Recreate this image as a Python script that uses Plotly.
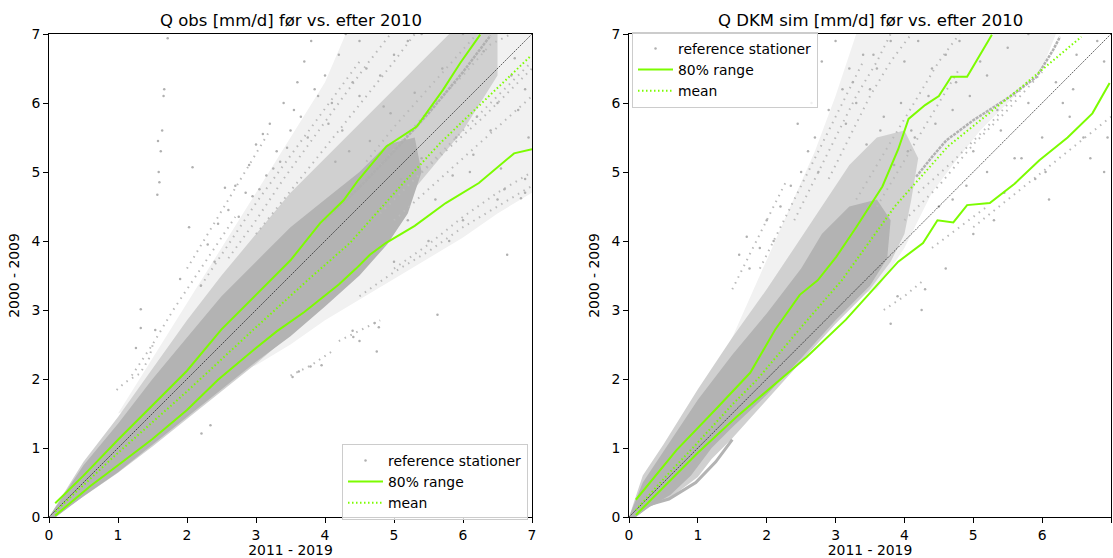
import plotly.graph_objects as go

# ---------------- data ----------------
titles = ["Q obs [mm/d] før vs. efter 2010", "Q DKM sim [mm/d] før vs. efter 2010"]
x_label = "2011 - 2019"
y_label = "2000 - 2009"
ticks = [0, 1, 2, 3, 4, 5, 6, 7]

# ----- left panel: observed -----
obs_up_x = [0.09, 0.5, 1.0, 1.5, 2.0, 2.5, 3.0, 3.5, 3.93, 4.27, 4.48, 4.89, 5.33, 5.71, 5.96, 6.25]
obs_up_y = [0.20, 0.6, 1.12, 1.62, 2.12, 2.72, 3.22, 3.72, 4.26, 4.59, 4.88, 5.37, 5.66, 6.19, 6.58, 6.99]
obs_lo_x = [0.09, 0.6, 1.0, 1.5, 2.0, 2.45, 3.0, 3.3, 3.7, 4.2, 4.45, 4.65, 4.88, 5.3, 5.75, 6.23, 6.74, 7.0]
obs_lo_y = [0.02, 0.45, 0.75, 1.13, 1.55, 1.99, 2.45, 2.69, 2.97, 3.37, 3.6, 3.8, 3.97, 4.22, 4.55, 4.84, 5.27, 5.33]
obs_mean_x = [0.09, 1.0, 2.0, 3.0, 3.78, 4.36, 5.09, 5.67, 6.97]
obs_mean_y = [0.08, 0.93, 1.82, 2.75, 3.46, 3.97, 4.79, 5.42, 6.67]

# outlines of the station cloud: dense core, speckled band, sparse haze
obs_core_x = [0.0, 0.5, 1.0, 1.5, 2.0, 2.5, 3.0, 3.5, 4.0, 4.5, 4.9, 5.3, 5.4, 5.2, 4.9, 4.5, 4.0, 3.5, 3.0, 2.5, 2.0, 1.5, 1.0, 0.5, 0.1]
obs_core_y = [0.0, 0.75, 1.35, 2.0, 2.6, 3.2, 3.7, 4.2, 4.6, 5.0, 5.4, 5.5, 5.0, 4.4, 3.95, 3.5, 3.05, 2.62, 2.25, 1.85, 1.45, 1.05, 0.65, 0.3, 0.0]
obs_mid_x = [0.0, 0.5, 1.0, 1.5, 2.0, 2.5, 3.0, 3.5, 4.0, 4.5, 5.0, 5.5, 5.8, 6.5, 6.5, 6.0, 5.5, 5.0, 4.5, 4.0, 3.5, 3.0, 2.5, 2.0, 1.5, 1.0, 0.6, 0.3, 0.1]
obs_mid_y = [0.0, 0.8, 1.45, 2.15, 2.85, 3.5, 4.1, 4.7, 5.2, 5.7, 6.2, 6.7, 7.0, 7.0, 6.4, 5.6, 5.0, 4.4, 3.8, 3.1, 2.65, 2.22, 1.82, 1.42, 1.02, 0.64, 0.36, 0.16, 0.0]
obs_haze_x = [1.0, 1.5, 2.0, 2.5, 3.0, 3.5, 4.0, 4.3, 7.0, 7.0, 6.5, 6.0, 5.5, 5.0, 4.5, 4.0, 3.5, 3.0]
obs_haze_y = [1.5, 2.3, 3.1, 3.9, 4.7, 5.5, 6.3, 7.0, 7.0, 4.7, 4.4, 4.05, 3.75, 3.45, 3.15, 2.85, 2.5, 2.2]
# sparse station curves (drawn as dotted strands)
obs_strands_x = [
    [1.2, 1.5, 1.8, 2.1, 2.4, 2.7],
    [2.2, 2.6, 3.0, 3.4, 3.8, 4.2, 4.5],
    [2.6, 3.0, 3.4, 3.8, 4.2, 4.6, 4.95],
    [3.0, 3.4, 3.8, 4.2, 4.6, 5.0, 5.3],
    [2.0, 2.3, 2.6, 2.9, 3.2],
    [4.6, 5.0, 5.4, 5.8, 6.2],
    [4.8, 5.2, 5.6, 6.0, 6.4, 6.7],
    [4.8, 5.3, 5.8, 6.3, 6.8, 7.0],
    [5.0, 5.5, 6.0, 6.5, 7.0],
    [5.2, 5.7, 6.2, 6.7, 7.0],
    [4.5, 5.0, 5.5, 6.0, 6.5, 7.0],
    [5.0, 5.5, 6.0, 6.5, 7.0],
    [4.2, 4.5, 4.8],
    [3.5, 3.8, 4.1],
    [0.98, 1.1, 1.32, 1.45, 1.51],
]
obs_strands_y = [
    [2.05, 2.5, 3.0, 3.45, 3.9, 4.35],
    [3.35, 3.95, 4.55, 5.1, 5.65, 6.2, 6.6],
    [3.75, 4.3, 4.9, 5.45, 6.0, 6.55, 7.0],
    [4.1, 4.6, 5.1, 5.6, 6.1, 6.6, 7.0],
    [3.6, 4.1, 4.6, 5.1, 5.6],
    [5.15, 5.65, 6.1, 6.55, 7.0],
    [5.1, 5.55, 6.0, 6.4, 6.85, 7.0],
    [4.4, 4.9, 5.35, 5.8, 6.3, 6.5],
    [4.3, 4.75, 5.2, 5.65, 6.1],
    [4.8, 5.3, 5.8, 6.3, 6.6],
    [3.2, 3.55, 3.85, 4.2, 4.5, 4.8],
    [3.6, 3.95, 4.35, 4.7, 5.0],
    [2.55, 2.7, 2.85],
    [2.05, 2.2, 2.4],
    [1.84, 1.95, 2.08, 2.3, 2.52],
]
obs_thick_x = [[4.0, 4.5, 5.0, 5.5, 6.0, 6.4]]
obs_thick_y = [[4.3, 4.78, 5.3, 5.85, 6.45, 6.98]]
obs_pts_x = [1.67, 1.64, 1.59, 1.57, 2.08, 2.55, 2.03, 1.72, 2.9, 3.0, 3.2, 3.4, 3.6, 3.7, 3.8, 3.3,
             3.5, 4.0, 4.2, 4.3, 2.7, 3.1, 3.9, 4.1, 4.4, 4.6, 4.5, 2.6, 2.85, 3.35, 3.75, 4.05,
             4.25, 4.5, 4.8, 5.0, 5.2, 6.0, 5.4, 5.0, 5.5, 6.0, 6.5, 6.9, 5.8, 6.6, 6.9, 5.2, 5.6,
             6.1, 6.4, 6.8, 6.9, 6.7, 6.5, 6.2, 5.9, 5.4, 5.1, 6.64, 6.84, 5.63, 4.72, 4.41, 4.5,
             3.79, 3.95, 3.53, 3.62, 4.75, 4.78, 4.4, 2.34, 2.21, 1.33, 1.33, 1.54, 1.26, 2.2, 2.4,
             1.9, 2.3, 2.45, 3.05, 3.25, 3.45, 3.65, 3.85, 4.65, 4.95, 5.3, 5.7, 6.3, 6.75, 5.85,
             6.15, 6.55, 6.95, 3.15, 3.55, 2.75, 2.95, 4.15, 4.35, 4.85, 1.62, 1.6, 1.66, 1.58]
obs_pts_y = [6.2, 5.6, 5.0, 4.67, 5.07, 4.77, 4.2, 6.94, 5.1, 5.4, 5.7, 6.0, 6.3, 6.6, 6.9, 5.3,
             5.6, 6.4, 6.7, 7.0, 4.8, 5.55, 6.1, 6.0, 6.3, 6.5, 6.9, 4.45, 4.7, 5.15, 5.5, 5.7,
             5.6, 6.1, 6.4, 6.7, 6.9, 7.0, 7.0, 3.7, 4.0, 4.3, 4.6, 4.9, 4.0, 4.75, 4.7, 4.3, 4.6,
             5.0, 5.6, 5.9, 6.2, 6.4, 6.0, 5.8, 5.5, 5.2, 4.9, 3.8, 4.62, 2.93, 2.81, 2.61, 2.55,
             2.18, 2.2, 2.03, 2.11, 2.4, 2.75, 2.7, 1.33, 1.21, 3.01, 2.74, 2.71, 2.45, 3.35, 3.7,
             3.45, 3.95, 4.25, 4.75, 5.05, 5.35, 5.8, 6.2, 5.45, 5.85, 6.15, 6.5, 6.75, 6.65, 4.95,
             5.25, 5.05, 5.5, 4.95, 5.9, 4.35, 4.65, 5.15, 5.3, 5.95, 5.3, 4.85, 6.1, 5.45]

# ----- right panel: DKM simulated -----
sim_up_x = [0.1, 0.69, 1.25, 1.76, 2.12, 2.48, 2.74, 3.01, 3.3, 3.68, 3.91, 4.06, 4.3, 4.5, 4.68, 4.91, 5.27]
sim_up_y = [0.25, 0.97, 1.55, 2.09, 2.71, 3.22, 3.43, 3.77, 4.2, 4.79, 5.33, 5.77, 5.97, 6.1, 6.38, 6.38, 6.99]
sim_lo_x = [0.1, 1.0, 1.56, 2.07, 2.58, 3.15, 3.66, 3.91, 4.27, 4.48, 4.71, 4.91, 5.24, 5.6, 5.96, 6.37, 6.73, 6.98]
sim_lo_y = [0.03, 0.93, 1.45, 1.89, 2.32, 2.86, 3.43, 3.7, 3.97, 4.3, 4.27, 4.52, 4.55, 4.83, 5.17, 5.5, 5.85, 6.29]
sim_mean_x = [0.1, 0.5, 1.0, 1.5, 1.86, 2.5, 3.09, 3.86, 4.63, 5.65, 6.57]
sim_mean_y = [0.1, 0.55, 1.08, 1.63, 1.99, 2.75, 3.43, 4.5, 5.37, 6.19, 6.96]

sim_core_x = [0.0, 0.2, 0.5, 1.0, 1.5, 2.0, 2.5, 2.8, 3.2, 3.6, 3.8, 3.75, 3.5, 3.0, 2.5, 2.0, 1.5, 1.2, 0.9, 0.6, 0.3, 0.1]
sim_core_y = [0.0, 0.5, 0.95, 1.7, 2.35, 2.95, 3.6, 4.1, 4.5, 4.6, 4.3, 3.75, 3.35, 2.85, 2.3, 1.77, 1.3, 1.0, 0.6, 0.32, 0.15, 0.0]
sim_mid_x = [0.0, 0.2, 0.5, 1.0, 1.5, 2.0, 2.4, 2.8, 3.2, 3.6, 4.0, 4.2, 4.1, 4.0, 3.8, 3.5, 3.0, 2.5, 2.0, 1.5, 1.2, 1.0, 0.6, 0.3, 0.1]
sim_mid_y = [0.0, 0.6, 1.05, 1.85, 2.6, 3.3, 3.9, 4.5, 5.1, 5.5, 5.6, 5.2, 4.6, 4.1, 3.7, 3.3, 2.8, 2.25, 1.7, 1.14, 0.84, 0.58, 0.28, 0.15, 0.0]
sim_haze_x = [1.5, 1.9, 2.3, 2.7, 3.0, 3.3, 6.2, 6.0, 5.6, 5.1, 4.7, 4.4, 4.2, 4.0, 3.6]
sim_haze_y = [2.6, 3.5, 4.4, 5.3, 6.1, 7.0, 7.0, 6.5, 6.1, 5.6, 5.1, 4.7, 4.3, 3.9, 3.3]
sim_strands_x = [
    [1.5, 1.7, 1.9, 2.1, 2.3],
    [1.9, 2.2, 2.5, 2.8, 3.1, 3.4],
    [2.4, 2.7, 3.0, 3.3, 3.6, 3.8],
    [2.9, 3.2, 3.5, 3.8, 4.1],
    [3.3, 3.6, 3.9, 4.2, 4.5, 4.8],
    [3.6, 3.9, 4.2, 4.5, 4.8],
    [4.0, 4.5, 5.0, 5.5, 6.0],
    [4.2, 4.7, 5.2, 5.7],
    [5.0, 5.5, 6.0, 6.5, 7.0],
    [4.4, 4.8, 5.2],
    [3.7, 4.0, 4.3],
]
sim_strands_y = [
    [3.3, 3.7, 4.1, 4.5, 4.9],
    [3.6, 4.2, 4.8, 5.4, 6.0, 6.6],
    [4.3, 4.9, 5.5, 6.1, 6.6, 7.0],
    [4.9, 5.5, 6.1, 6.6, 7.0],
    [4.6, 5.1, 5.6, 6.1, 6.6, 7.0],
    [4.5, 5.0, 5.5, 6.0, 6.5],
    [4.3, 4.8, 5.4, 5.9, 6.45],
    [4.7, 5.15, 5.65, 6.2],
    [4.2, 4.6, 5.0, 5.4, 5.8],
    [3.9, 4.2, 4.5],
    [3.0, 3.2, 3.45],
]
sim_thick_x = [[4.17, 4.41, 4.61, 5.0, 5.53, 5.92, 6.16, 6.26]]
sim_thick_y = [[4.93, 5.23, 5.46, 5.75, 6.09, 6.38, 6.77, 6.96]]
sim_solid_x = [[0.15, 0.3, 0.58, 0.97, 1.26, 1.5]]
sim_solid_y = [[0.12, 0.18, 0.26, 0.5, 0.8, 1.12]]
sim_pts_x = [1.71, 1.6, 3.0, 3.2, 3.4, 3.5, 2.9, 2.7, 2.5, 2.6, 3.3, 3.6, 3.8, 4.0, 4.2, 4.6, 4.8,
             4.4, 5.2, 5.5, 5.8, 5.4, 5.8, 6.2, 6.5, 6.8, 5.0, 5.2, 5.6, 6.0, 6.4, 6.9, 6.9, 6.1,
             6.6, 5.9, 5.3, 5.0, 4.7, 4.9, 4.5, 3.9, 4.3, 4.6, 3.8, 4.25, 2.2, 2.35, 2.0, 1.9,
             3.1, 3.7, 4.1, 4.7, 4.95, 5.1, 5.7, 6.3, 6.7, 6.95, 3.55, 3.95, 4.35, 4.75, 5.35,
             2.8, 3.25, 3.65, 4.05, 4.45, 5.45, 6.05, 6.45, 2.45, 2.65, 3.15, 2.1, 1.75, 2.75,
             3.45, 3.85, 4.15]
sim_pts_y = [4.06, 3.8, 6.9, 6.5, 6.7, 6.2, 5.9, 5.5, 5.0, 5.3, 6.0, 6.5, 6.9, 6.6, 6.9, 6.7, 6.9,
             6.5, 6.4, 6.8, 7.0, 5.6, 6.0, 6.3, 6.7, 6.9, 5.3, 5.0, 5.2, 5.5, 5.8, 6.6, 5.0, 4.6,
             5.5, 4.9, 4.3, 4.1, 4.6, 4.8, 4.5, 3.2, 3.3, 3.6, 2.8, 3.0, 4.5, 4.8, 4.3, 3.9,
             6.2, 5.8, 5.6, 5.9, 6.1, 6.6, 5.2, 6.0, 5.2, 5.5, 6.7, 6.0, 6.1, 6.3, 5.9,
             6.6, 6.3, 5.6, 5.3, 5.7, 4.7, 5.0, 6.2, 5.7, 6.0, 5.7, 4.0, 3.6, 5.0,
             5.4, 5.1, 5.5]

# ---------------- styling ----------------
GREEN = "#7CFC00"
PT = "#b0b0b0"
STRAND = "#bababa"
HAZE = "#f1f1f1"
MID = "#d0d0d0"
CORE = "#b3b3b3"
FONT = "DejaVu Sans"
FS = 13.9

fig = go.Figure()

panels = [
    dict(xa="x", ya="y", legend="legend",
         core=(obs_core_x, obs_core_y), mid=(obs_mid_x, obs_mid_y), haze=(obs_haze_x, obs_haze_y),
         strands=(obs_strands_x, obs_strands_y), thick=(obs_thick_x, obs_thick_y),
         solid=([], []),
         pts=(obs_pts_x, obs_pts_y), up=(obs_up_x, obs_up_y), lo=(obs_lo_x, obs_lo_y),
         mean=(obs_mean_x, obs_mean_y)),
    dict(xa="x2", ya="y2", legend="legend2",
         core=(sim_core_x, sim_core_y), mid=(sim_mid_x, sim_mid_y), haze=(sim_haze_x, sim_haze_y),
         strands=(sim_strands_x, sim_strands_y), thick=(sim_thick_x, sim_thick_y),
         solid=(sim_solid_x, sim_solid_y),
         pts=(sim_pts_x, sim_pts_y), up=(sim_up_x, sim_up_y), lo=(sim_lo_x, sim_lo_y),
         mean=(sim_mean_x, sim_mean_y)),
]

for p in panels:
    common = dict(xaxis=p["xa"], yaxis=p["ya"], legend=p["legend"], hoverinfo="skip")
    for key, col in (("haze", HAZE), ("mid", MID), ("core", CORE)):
        fig.add_trace(go.Scatter(x=p[key][0], y=p[key][1], fill="toself", mode="lines",
                                 fillcolor=col, line=dict(width=0), showlegend=False, **common))
    for sx, sy in zip(*p["strands"]):
        fig.add_trace(go.Scatter(x=sx, y=sy, mode="lines",
                                 line=dict(color=STRAND, width=2, dash="1.5px,5px"),
                                 showlegend=False, **common))
    for sx, sy in zip(*p["thick"]):
        fig.add_trace(go.Scatter(x=sx, y=sy, mode="lines",
                                 line=dict(color=PT, width=2.5, dash="3px,1px"),
                                 showlegend=False, **common))
    for sx, sy in zip(*p["solid"]):
        fig.add_trace(go.Scatter(x=sx, y=sy, mode="lines", line=dict(color=CORE, width=3),
                                 showlegend=False, **common))
    fig.add_trace(go.Scatter(x=p["pts"][0], y=p["pts"][1], mode="markers",
                             marker=dict(color=PT, size=2.5), name="reference stationer",
                             showlegend=True, **common))
    fig.add_trace(go.Scatter(x=ticks, y=ticks, mode="lines",
                             line=dict(color="black", width=0.6, dash="2px,1px"),
                             showlegend=False, **common))
    fig.add_trace(go.Scatter(x=p["up"][0], y=p["up"][1], mode="lines",
                             line=dict(color=GREEN, width=2), name="80% range",
                             legendgroup="r" + p["legend"], showlegend=True, **common))
    fig.add_trace(go.Scatter(x=p["lo"][0], y=p["lo"][1], mode="lines",
                             line=dict(color=GREEN, width=2), name="80% range",
                             legendgroup="r" + p["legend"], showlegend=False, **common))
    fig.add_trace(go.Scatter(x=p["mean"][0], y=p["mean"][1], mode="lines",
                             line=dict(color=GREEN, width=2, dash="1.5px,2.5px"), name="mean",
                             showlegend=True, **common))

W, H = 1113, 558
ydom = [1 - 517 / H, 1 - 34 / H]
axis_common = dict(range=[0, 7], tickvals=ticks, ticks="outside", ticklen=5, tickwidth=1,
                   tickcolor="black", showline=True, linecolor="black", linewidth=1,
                   mirror=True, showgrid=False, zeroline=False, automargin=False,
                   tickfont=dict(family=FONT, size=FS, color="black"))

legend_common = dict(bgcolor="rgba(255,255,255,0.8)", bordercolor="#cccccc", borderwidth=1,
                     font=dict(family=FONT, size=FS, color="black"), tracegroupgap=0,
                     itemsizing="trace", itemwidth=35)

fig.update_layout(
    width=W, height=H,
    margin=dict(l=0, r=0, t=0, b=0),
    paper_bgcolor="white", plot_bgcolor="white",
    font=dict(family=FONT, size=FS, color="black"),
    xaxis=dict(domain=[49 / W, 532 / W], anchor="y",
               title=dict(text=x_label, standoff=4, font=dict(family=FONT, size=FS)), **axis_common),
    yaxis=dict(domain=ydom, anchor="x",
               title=dict(text=y_label, standoff=8, font=dict(family=FONT, size=FS)), **axis_common),
    xaxis2=dict(domain=[629 / W, 1111 / W], anchor="y2",
                title=dict(text=x_label, standoff=4, font=dict(family=FONT, size=FS)), **axis_common),
    yaxis2=dict(domain=ydom, anchor="x2",
                title=dict(text=y_label, standoff=8, font=dict(family=FONT, size=FS)), **axis_common),
    legend=dict(x=528 / W, y=1 - 520 / H, xanchor="right", yanchor="bottom", **legend_common),
    legend2=dict(x=632 / W, y=1 - 32 / H, xanchor="left", yanchor="top", **legend_common),
    annotations=[
        dict(text=titles[0], x=(49 + 532) / 2 / W, y=1 - 20 / H, xref="paper", yref="paper",
             showarrow=False, font=dict(family=FONT, size=16.5, color="black"),
             xanchor="center", yanchor="middle"),
        dict(text=titles[1], x=(629 + 1111) / 2 / W, y=1 - 20 / H, xref="paper", yref="paper",
             showarrow=False, font=dict(family=FONT, size=16.5, color="black"),
             xanchor="center", yanchor="middle"),
    ],
)

fig.write_html("out.html")
